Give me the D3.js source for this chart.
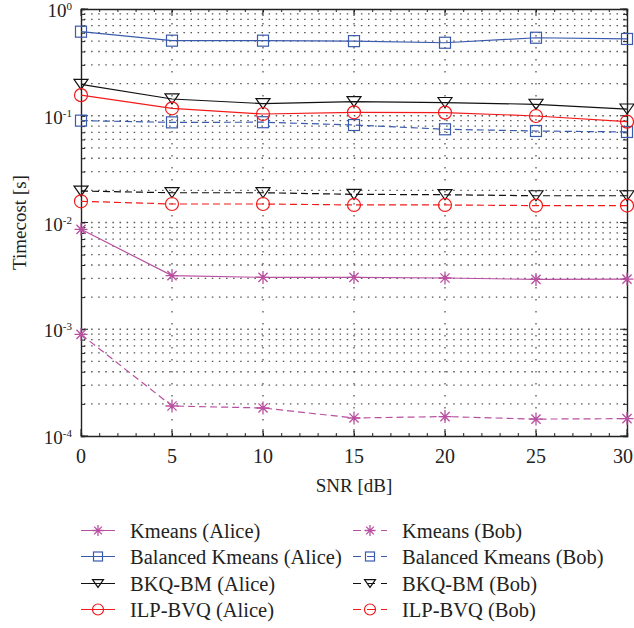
<!DOCTYPE html>
<html><head><meta charset="utf-8">
<script src="https://cdn.jsdelivr.net/npm/d3@7"></script>
<style>body{margin:0;background:#fff}svg{display:block}</style>
</head><body><svg id="c" width="634" height="628"></svg>
<script>
const snr = [0, 5, 10, 15, 20, 25, 30];
const kmeansAlice = [0.00863, 0.00318, 0.00306, 0.00306, 0.00302, 0.00293, 0.00295];
const kmeansBob = [0.000896, 0.000191, 0.000183, 0.0001475, 0.000152, 0.000144, 0.0001455];
const balancedAlice = [0.613, 0.505, 0.505, 0.50, 0.483, 0.538, 0.524];
const balancedBob = [0.090, 0.0867, 0.0870, 0.0819, 0.0747, 0.072, 0.0705];
const bkqAlice = [0.197, 0.1435, 0.130, 0.1355, 0.133, 0.128, 0.1156];
const bkqBob = [0.0197, 0.0190, 0.0190, 0.01836, 0.0182, 0.0178, 0.0178];
const ilpAlice = [0.156, 0.1174, 0.1038, 0.1076, 0.107, 0.0995, 0.088];
const ilpBob = [0.0158, 0.0149, 0.0149, 0.0146, 0.0146, 0.0144, 0.0144];
const xTicks = [0, 5, 10, 15, 20, 25, 30];
const yTickExps = [0, -1, -2, -3, -4];

const FONT = "'Liberation Serif', 'Times New Roman', Tinos, 'DejaVu Serif', serif";
const series = [
  {name:"Kmeans (Alice)", v:kmeansAlice, color:"#b94fa0", marker:"star", dash:null},
  {name:"Kmeans (Bob)", v:kmeansBob, color:"#b94fa0", marker:"star", dash:"7,4"},
  {name:"Balanced Kmeans (Alice)", v:balancedAlice, color:"#3a5aae", marker:"square", dash:null},
  {name:"Balanced Kmeans (Bob)", v:balancedBob, color:"#3a5aae", marker:"square", dash:"7,4"},
  {name:"BKQ-BM (Alice)", v:bkqAlice, color:"#111", marker:"tri", dash:null},
  {name:"BKQ-BM (Bob)", v:bkqBob, color:"#111", marker:"tri", dash:"7,4"},
  {name:"ILP-BVQ (Alice)", v:ilpAlice, color:"#f21b1b", marker:"circle", dash:null},
  {name:"ILP-BVQ (Bob)", v:ilpBob, color:"#f21b1b", marker:"circle", dash:"7,4"}
];

const svg = d3.select("#c");
const L = 81, R = 627, T = 9, B = 436;
const x = d3.scaleLinear().domain([0, 30]).range([L, R]);
const y = d3.scaleLog().domain([1e-4, 1]).range([B, T]);

// grid
const g = svg.append("g");
const minor = [];
for (let e = -4; e < 0; e++) for (let m = 1; m <= 9; m++) minor.push(m * Math.pow(10, e));
minor.push(1);
g.selectAll(".hg").data(minor.filter(v => v > 1e-4 && v < 1)).join("line")
  .attr("x1", L + 3).attr("x2", R).attr("y1", d => y(d)).attr("y2", d => y(d))
  .attr("stroke", "#555").attr("stroke-width", 1.3).attr("stroke-dasharray", "1.5,5.6");
g.selectAll(".vg").data(xTicks.slice(1, -1)).join("line")
  .attr("x1", d => x(d)).attr("x2", d => x(d)).attr("y1", T + 2).attr("y2", B)
  .attr("stroke", "#555").attr("stroke-width", 1.3).attr("stroke-dasharray", "1.5,10.5");

// axes via d3
const xMinor = d3.range(0, 30.01, 1);
const yAxisL = d3.axisLeft(y).tickValues(minor).tickSize(-4).tickFormat("");
const yAxisR = d3.axisRight(y).tickValues(minor).tickSize(-4).tickFormat("");
const xAxisB = d3.axisBottom(x).tickValues(xMinor).tickSize(-3).tickFormat("");
const xAxisT = d3.axisTop(x).tickValues(xMinor).tickSize(-3).tickFormat("");
function styleAx(sel){ sel.select(".domain").attr("stroke","#222").attr("stroke-width",1.4); sel.selectAll(".tick line").attr("stroke","#222").attr("stroke-width",1); }
svg.append("g").attr("transform",`translate(${L},0)`).call(yAxisL).call(styleAx);
svg.append("g").attr("transform",`translate(${R},0)`).call(yAxisR).call(styleAx);
svg.append("g").attr("transform",`translate(0,${B})`).call(xAxisB).call(styleAx);
svg.append("g").attr("transform",`translate(0,${T})`).call(xAxisT).call(styleAx);
// major ticks longer
[L, R].forEach((px, i) => {
  svg.selectAll(null).data(yTickExps.map(e => Math.pow(10, e))).join("line")
    .attr("x1", px).attr("x2", px + (i === 0 ? 7 : -7)).attr("y1", d => y(d)).attr("y2", d => y(d))
    .attr("stroke", "#222").attr("stroke-width", 1);
});
[B, T].forEach((py, i) => {
  svg.selectAll(null).data(xTicks).join("line")
    .attr("x1", d => x(d)).attr("x2", d => x(d)).attr("y1", py).attr("y2", py + (i === 0 ? -7 : 7))
    .attr("stroke", "#222").attr("stroke-width", 1);
});

// tick labels
const yl = svg.append("g");
yTickExps.forEach(e => {
  const t = yl.append("text").attr("x", 72).attr("y", y(Math.pow(10, e)) + 8).attr("text-anchor", "end")
    .attr("font-size", 19).attr("font-family", FONT).attr("fill", "#222");
  t.append("tspan").text("10");
  t.append("tspan").attr("font-size", 11).attr("dy", -7).text(e === 0 ? "0" : "-" + (-e));
});
svg.selectAll(".xl").data(xTicks).join("text").attr("x", d => Math.min(x(d), 623)).attr("y", B + 27)
  .attr("text-anchor", "middle").attr("font-size", 20).attr("font-family", FONT).attr("fill", "#222").text(d => d);
svg.append("text").attr("x", 354).attr("y", 492).attr("text-anchor", "middle").attr("font-size", 19)
  .attr("font-family", FONT).attr("fill", "#222").text("SNR [dB]");
svg.append("text").attr("transform", `translate(26,${(T+B)/2}) rotate(-90)`).attr("text-anchor", "middle")
  .attr("font-size", 19).attr("font-family", FONT).attr("fill", "#222").text("Timecost [s]");

// markers
function drawMarker(sel, type, color, s) {
  if (type === "square") sel.append("rect").attr("x", -s/2).attr("y", -s/2).attr("width", s).attr("height", s).attr("fill", "none").attr("stroke", color).attr("stroke-width", 1.2);
  else if (type === "circle") sel.append("circle").attr("r", s/2).attr("fill", "none").attr("stroke", color).attr("stroke-width", 1.2);
  else if (type === "tri") { const w = s*0.5, h = s*0.36; sel.append("path").attr("d", `M${-w},${-h}L${w},${-h}L0,${h}Z`).attr("fill", "none").attr("stroke", color).attr("stroke-width", 1.2); }
  else if (type === "star") {
    const r = s/2; let d = "";
    for (let k = 0; k < 4; k++) { const a = k * Math.PI / 4; d += `M${-r*Math.cos(a)},${-r*Math.sin(a)}L${r*Math.cos(a)},${r*Math.sin(a)}`; }
    sel.append("path").attr("d", d).attr("stroke", color).attr("stroke-width", 1.3).attr("fill", "none");
  }
}
const msize = {square: 11, circle: 13, tri: 14, star: 13};
const line = d3.line().x((d, i) => x(snr[i])).y(d => y(d));
series.forEach(s => {
  svg.append("path").datum(s.v).attr("d", line).attr("fill", "none").attr("stroke", s.color)
    .attr("stroke-width", 1.2).attr("stroke-dasharray", s.dash);
  s.v.forEach((v, i) => {
    const m = svg.append("g").attr("transform", `translate(${x(snr[i])},${y(v)})`);
    drawMarker(m, s.marker, s.color, msize[s.marker]);
  });
});

// legend
const lsize = {square: 9, circle: 11, tri: 11, star: 11};
const rows = [530.5, 556.5, 583.5, 609.5];
series.forEach((s, k) => {
  const col = k % 2, row = Math.floor(k / 2);
  const yy = rows[row];
  const x0 = col === 0 ? 81 : 353, x1 = col === 0 ? 115 : 387, tx = col === 0 ? 130 : 402;
  svg.append("line").attr("x1", x0).attr("x2", x1).attr("y1", yy).attr("y2", yy).attr("stroke", s.color)
    .attr("stroke-width", 1.2).attr("stroke-dasharray", s.dash ? "8,6" : null);
  const m = svg.append("g").attr("transform", `translate(${(x0+x1)/2},${yy})`);
  drawMarker(m, s.marker, s.color, lsize[s.marker]);
  svg.append("text").attr("x", tx).attr("y", yy + 7).attr("font-size", 20.5).attr("font-family", FONT)
    .attr("fill", "#222").text(s.name);
});
</script></body></html>
